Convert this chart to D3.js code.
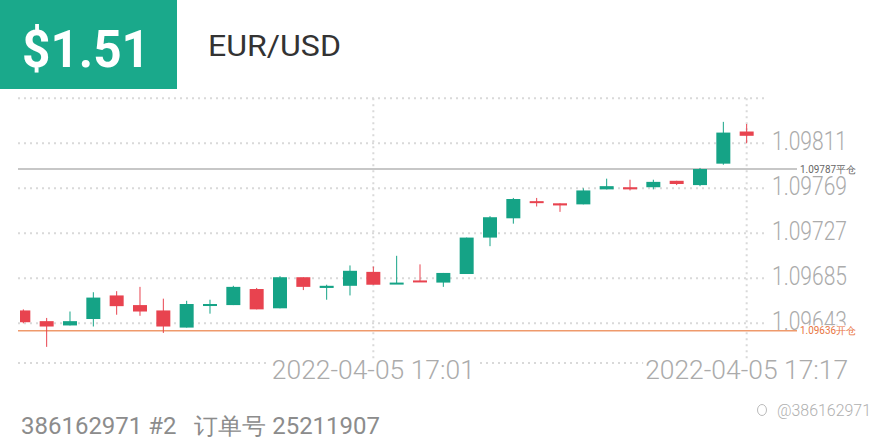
<!DOCTYPE html>
<html><head><meta charset="utf-8">
<script src="https://cdn.jsdelivr.net/npm/d3@7/dist/d3.min.js"></script>
<style>body{margin:0;background:#fff}svg{display:block}</style>
</head><body><svg id="c" width="880" height="440"></svg>
<script>
const times = ["16:46","16:47","16:48","16:49","16:50","16:51","16:52","16:53","16:54","16:55","16:56","16:57","16:58","16:59","17:00","17:01","17:02","17:03","17:04","17:05","17:06","17:07","17:08","17:09","17:10","17:11","17:12","17:13","17:14","17:15","17:16","17:17"];
const open  = [1.09655,1.09645,1.09641,1.09647,1.09669,1.09660,1.09655,1.09639,1.09660,1.09660,1.09675,1.09657,1.09686,1.09676,1.09678,1.09691,1.09680,1.09683,1.09681,1.09689,1.09723,1.09741,1.09757,1.09755,1.09754,1.09768,1.09770,1.09770,1.09776,1.09772,1.09792,1.09822];
const high  = [1.09656,1.09648,1.09654,1.09672,1.09673,1.09677,1.09666,1.09664,1.09665,1.09678,1.09676,1.09687,1.09686,1.09679,1.09697,1.09696,1.09706,1.09698,1.09690,1.09723,1.09743,1.09760,1.09760,1.09755,1.09769,1.09778,1.09777,1.09777,1.09776,1.09788,1.09831,1.09829];
const low   = [1.09643,1.09621,1.09641,1.09640,1.09651,1.09650,1.09634,1.09639,1.09652,1.09660,1.09656,1.09657,1.09674,1.09665,1.09669,1.09679,1.09680,1.09682,1.09677,1.09689,1.09715,1.09736,1.09752,1.09747,1.09754,1.09768,1.09767,1.09768,1.09772,1.09771,1.09791,1.09811];
const close = [1.09644,1.09640,1.09645,1.09667,1.09659,1.09654,1.09640,1.09661,1.09661,1.09677,1.09656,1.09686,1.09677,1.09678,1.09692,1.09679,1.09681,1.09682,1.09690,1.09723,1.09742,1.09759,1.09756,1.09753,1.09767,1.09771,1.09768,1.09775,1.09773,1.09787,1.09821,1.09818];
const yTicks = [1.09811,1.09769,1.09727,1.09685,1.09643];
const topLine = 1.09853;
const xTickTimes = ["17:01","17:17"];
const xTickLabels = ["2022-04-05 17:01","2022-04-05 17:17"];
const closeLevel = 1.09787, closeLabel = "1.09787平仓";
const openLevel = 1.09636, openLabel = "1.09636开仓";
const price = "$1.51", symbol = "EUR/USD";
const footer = "386162971 #2\u00a0\u00a0\u00a0订单号 25211907";
const watermark = "@386162971";

const svg = d3.select("#c");
const GREEN = "#15a386", RED = "#e8434f";
const FONT = "Roboto, 'Helvetica Neue', Arial, sans-serif";

const x = d3.scalePoint().domain(times).range([23.33, 746.67]);
const y = d3.scaleLinear().domain([1.09643, 1.09811]).range([323.3, 143.3]);
const left = 18, gridRight = 767, lvlRight = 797, bottom = 363;

// header
svg.append("rect").attr("x",0).attr("y",0).attr("width",177).attr("height",89).attr("fill","#1aa98b");
svg.append("text").attr("x",22).attr("y",66.5).text(price)
  .attr("font-family",FONT).attr("font-weight",700).attr("font-size",52).attr("fill","#fff")
  .attr("textLength",128).attr("lengthAdjust","spacingAndGlyphs");
svg.append("text").attr("x",208).attr("y",55.5).text(symbol)
  .attr("font-family",FONT).attr("font-size",29).attr("fill","#333")
  .attr("textLength",133).attr("lengthAdjust","spacingAndGlyphs");

// grid
const g = svg.append("g");
const dot = sel => sel.attr("stroke","#d9d9d9").attr("stroke-width",2).attr("stroke-dasharray","2,4");
g.selectAll("line.h").data([topLine].concat(yTicks)).join("line")
  .attr("x1",left).attr("x2",gridRight).attr("y1",d=>y(d)).attr("y2",d=>y(d)).call(dot);
g.append("line").attr("x1",left).attr("x2",gridRight).attr("y1",bottom).attr("y2",bottom).call(dot);
g.selectAll("line.v").data(xTickTimes).join("line")
  .attr("x1",d=>x(d)).attr("x2",d=>x(d)).attr("y1",y(topLine)).attr("y2",bottom).call(dot);

// y labels
g.selectAll("text.yl").data(yTicks).join("text")
  .attr("x",772).attr("y",d=>y(d)+7).text(d=>d.toFixed(5))
  .attr("font-family",FONT).attr("font-weight",300).attr("font-size",25).attr("fill","#ababab")
  .attr("textLength",75).attr("lengthAdjust","spacingAndGlyphs");

// level lines
svg.append("line").attr("x1",left).attr("x2",lvlRight).attr("y1",y(closeLevel)).attr("y2",y(closeLevel))
  .attr("stroke","#b5b5b5").attr("stroke-width",1.5);
svg.append("line").attr("x1",left).attr("x2",lvlRight).attr("y1",y(openLevel)).attr("y2",y(openLevel))
  .attr("stroke","#ef9a6c").attr("stroke-width",1.5);
function lvlLabel(v, txt, col){
  const t = svg.append("text").attr("x",800).attr("y",y(v)+3.5).text(txt)
    .attr("font-family",FONT).attr("font-size",10).attr("fill",col)
    .attr("textLength",56).attr("lengthAdjust","spacingAndGlyphs");
  const b = t.node().getBBox();
  svg.insert("rect", () => t.node()).attr("x",b.x-1).attr("y",b.y).attr("width",b.width+2).attr("height",b.height).attr("fill","#fff");
}
lvlLabel(closeLevel, closeLabel, "#666");
lvlLabel(openLevel, openLabel, "#e8743e");

// candles
svg.append("clipPath").attr("id","clip").append("rect").attr("x",20).attr("y",0).attr("width",860).attr("height",440);
const data = times.map((t,i)=>({t,o:open[i],h:high[i],l:low[i],c:close[i]}));
const cg = svg.append("g").attr("clip-path","url(#clip)");
const bw = 14;
cg.selectAll("line.w").data(data).join("line")
  .attr("x1",d=>x(d.t)).attr("x2",d=>x(d.t)).attr("y1",d=>y(d.h)).attr("y2",d=>y(d.l))
  .attr("stroke",d=>d.c>=d.o?GREEN:RED).attr("stroke-width",1);
cg.selectAll("rect.b").data(data).join("rect")
  .attr("x",d=>x(d.t)-bw/2).attr("width",bw)
  .attr("y",d=>y(Math.max(d.o,d.c)))
  .attr("height",d=>Math.max(2, Math.abs(y(d.o)-y(d.c))))
  .attr("fill",d=>d.c>=d.o?GREEN:RED);

// x labels
xTickTimes.forEach((t,i)=>{
  const tx = svg.append("text").attr("x",x(t)).attr("y",379).attr("text-anchor","middle").text(xTickLabels[i])
    .attr("font-family",FONT).attr("font-weight",300).attr("font-size",25).attr("fill","#ababab")
    .attr("textLength",203).attr("lengthAdjust","spacingAndGlyphs");
  const b = tx.node().getBBox();
  svg.insert("rect", () => tx.node()).attr("x",b.x-2).attr("y",b.y+4).attr("width",b.width+4).attr("height",b.height-8).attr("fill","#fff");
});

// footer
svg.append("text").attr("x",21).attr("y",434).text(footer)
  .attr("font-family",FONT).attr("font-size",23).attr("fill","#8c8c8c")
  .attr("textLength",359).attr("lengthAdjust","spacingAndGlyphs");
svg.append("ellipse").attr("cx",762).attr("cy",410).attr("rx",4.5).attr("ry",5.5)
  .attr("fill","none").attr("stroke","#bbb").attr("stroke-width",1);
svg.append("text").attr("x",777).attr("y",416).text(watermark)
  .attr("font-family",FONT).attr("font-weight",300).attr("font-size",16).attr("fill","#b0b0b0")
  .attr("textLength",94).attr("lengthAdjust","spacingAndGlyphs");
</script></body></html>
